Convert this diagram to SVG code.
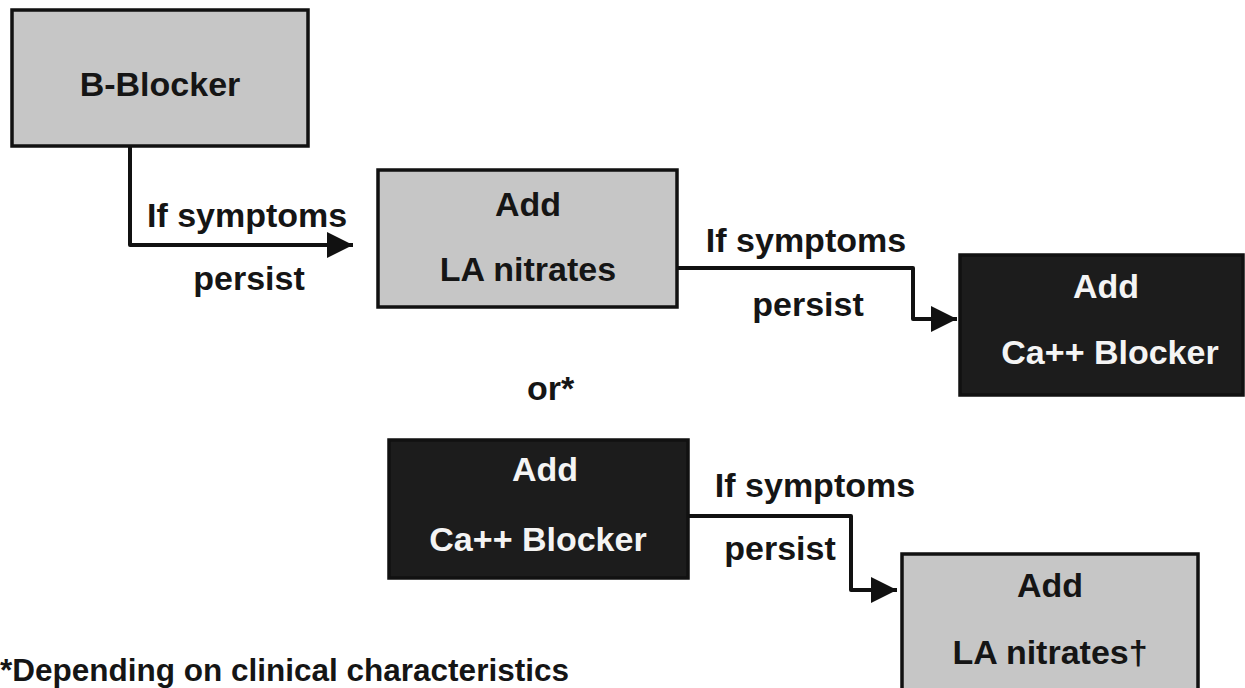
<svg xmlns="http://www.w3.org/2000/svg" width="1245" height="688" viewBox="0 0 1245 688">
  <defs>
    <marker id="arrow" viewBox="0 0 10 10" refX="10" refY="5" markerWidth="7" markerHeight="6.5" markerUnits="strokeWidth" orient="auto">
      <path d="M0,0 L10,5 L0,10 Z" fill="#111"/>
    </marker>
    <style>
      .box-light { fill: #c6c6c6; stroke: #111; stroke-width: 3.5; }
      .box-dark { fill: #1c1c1c; stroke: #111; stroke-width: 3.5; }
      text { font-family: "Liberation Sans", Arial, Helvetica, sans-serif; font-weight: bold; font-size: 34px; }
      .dark-text { fill: #151515; }
      .light-text { fill: #f4f4f4; }
      .mid { text-anchor: middle; }
      .link { fill: none; stroke: #111; stroke-width: 4; stroke-linejoin: round; marker-end: url(#arrow); }
    </style>
  </defs>
  <rect width="1245" height="688" fill="#ffffff"/>

  <!-- connectors with their condition labels -->
  <g id="connectors">
    <path class="link" d="M130,146 V245 H353"/>
    <path class="link" d="M677,268 H913 V319 H957"/>
    <path class="link" d="M688,516 H851 V590 H897"/>
    <text class="dark-text" x="147" y="227">If symptoms</text>
    <text class="dark-text mid" x="249" y="290">persist</text>
    <text class="dark-text mid" x="806" y="252">If symptoms</text>
    <text class="dark-text mid" x="808" y="316">persist</text>
    <text class="dark-text mid" x="815" y="497">If symptoms</text>
    <text class="dark-text mid" x="780" y="560">persist</text>
  </g>

  <g id="b-blocker">
    <rect class="box-light" x="12" y="10" width="296" height="136"/>
    <text class="dark-text mid" x="160" y="96">B-Blocker</text>
  </g>

  <g id="add-nitrates">
    <rect class="box-light" x="378" y="170" width="299" height="137"/>
    <text class="dark-text mid" x="528" y="216">Add</text>
    <text class="dark-text mid" x="528" y="281">LA nitrates</text>
  </g>

  <g id="add-ca-blocker-1">
    <rect class="box-dark" x="960" y="255" width="283" height="140"/>
    <text class="light-text mid" x="1106" y="298">Add</text>
    <text class="light-text mid" x="1110" y="364">Ca++ Blocker</text>
  </g>

  <g id="or-label">
    <text class="dark-text" x="527" y="400">or*</text>
  </g>

  <g id="add-ca-blocker-2">
    <rect class="box-dark" x="389" y="440" width="299" height="138"/>
    <text class="light-text mid" x="545" y="481">Add</text>
    <text class="light-text mid" x="538" y="551">Ca++ Blocker</text>
  </g>

  <g id="add-nitrates-2">
    <rect class="box-light" x="902" y="554" width="296" height="150"/>
    <text class="dark-text mid" x="1050" y="597">Add</text>
    <text class="dark-text mid" x="1050" y="664">LA nitrates†</text>
  </g>

  <g id="footnote">
    <text class="dark-text" x="0" y="681" style="font-size:31.5px">*Depending on clinical characteristics</text>
  </g>
</svg>
